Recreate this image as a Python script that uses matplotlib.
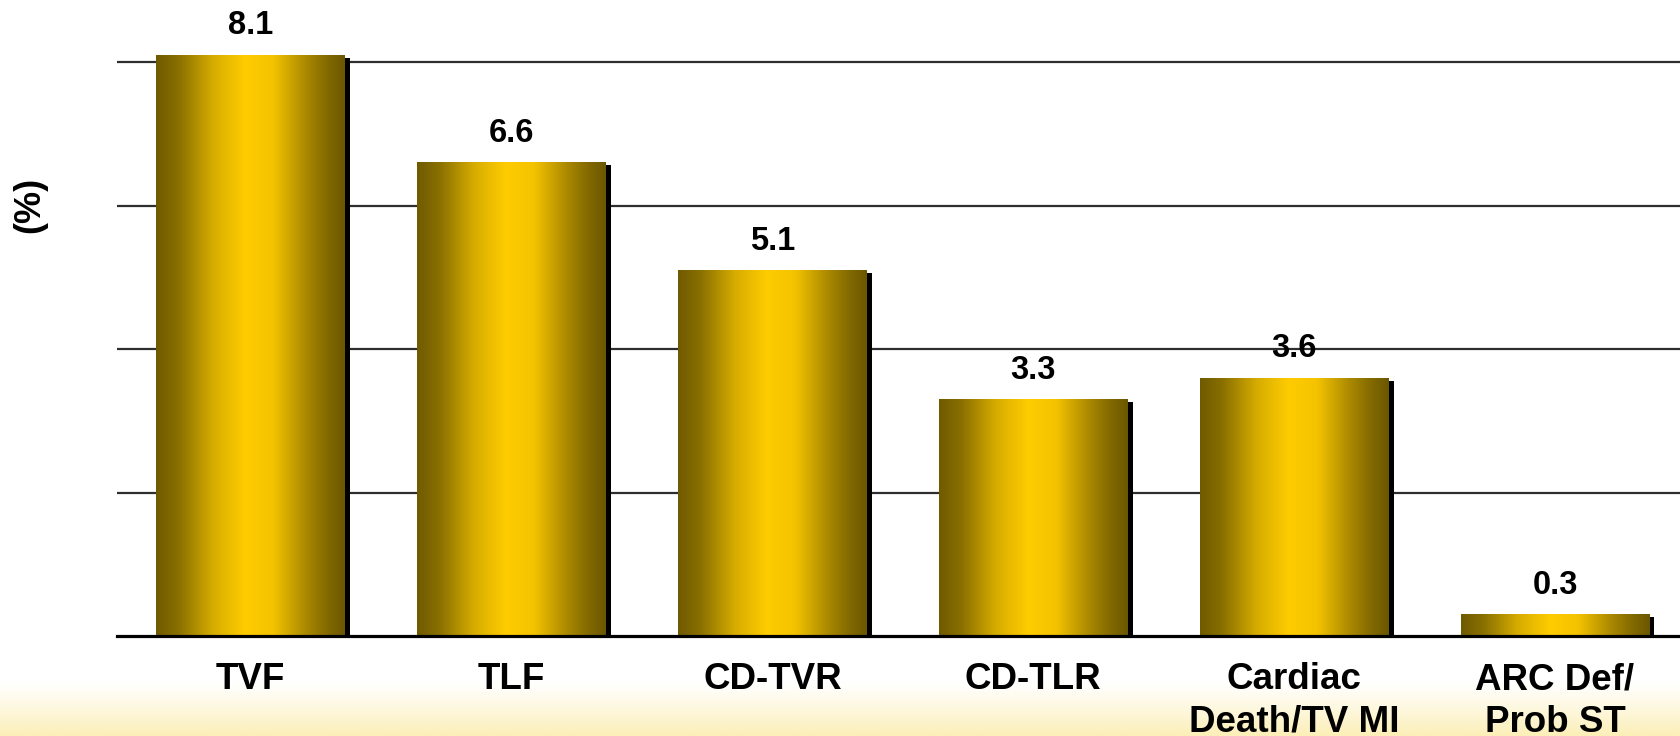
import numpy as np
import matplotlib
matplotlib.use("Agg")
import matplotlib.pyplot as plt
from matplotlib.colors import LinearSegmentedColormap
from matplotlib.transforms import ScaledTranslation

# ---- data ----
categories = ["TVF", "TLF", "CD-TVR", "CD-TLR", "Cardiac\nDeath/TV MI", "ARC Def/\nProb ST"]
values = [8.1, 6.6, 5.1, 3.3, 3.6, 0.3]
value_labels = ["8.1", "6.6", "5.1", "3.3", "3.6", "0.3"]
grid_levels = [2, 4, 6, 8]
y_label = "(%)"

plt.rcParams['font.family'] = ['Liberation Sans', 'DejaVu Sans']

W, H, DPI = 1680, 736, 100
fig = plt.figure(figsize=(W / DPI, H / DPI), dpi=DPI, facecolor='white')

# background: white fading to pale cream at the bottom
bg = fig.add_axes([0, 0, 1, 1], zorder=-5)
bg.set_axis_off()
ys = np.linspace(0, 1, 400)
frac = np.clip((ys - 0.925) / 0.075, 0, 1) ** 1.2
top = np.array([1.0, 1.0, 1.0])
bot = np.array([0xfc, 0xef, 0xb8]) / 255.0
grad = top[None, :] * (1 - frac[:, None]) + bot[None, :] * frac[:, None]
bg.imshow(grad[:, None, :], aspect='auto', extent=[0, 1, 1, 0])
bg.set_xlim(0, 1)
bg.set_ylim(1, 0)

ax = fig.add_axes([117 / W, 100 / H, (W - 117) / W, 636 / H])
ax.patch.set_alpha(0)

x = np.arange(len(categories))
width = 0.724

bar_cmap = LinearSegmentedColormap.from_list("gold", [
    (0.0, '#6f5a00'), (0.12, '#8a7000'), (0.30, '#d6ac00'), (0.47, '#ffcc00'),
    (0.62, '#f4c300'), (0.80, '#a88700'), (0.92, '#7f6600'), (1.0, '#6b5700')])
gimg = np.linspace(0, 1, 256)[None, :]

# shadows
shadow_tr = ax.transData + ScaledTranslation(5 / DPI, -3 / DPI, fig.dpi_scale_trans)
ax.bar(x, values, width=width, color='black', transform=shadow_tr, zorder=2)

# gradient bars
bars = ax.bar(x, values, width=width, color='none', edgecolor='none', zorder=3)
for b in bars:
    x0, y0 = b.get_x(), b.get_y()
    im = ax.imshow(gimg, cmap=bar_cmap, aspect='auto', interpolation='bicubic',
                   extent=[x0, x0 + b.get_width(), y0, y0 + b.get_height()], zorder=3)
    im.set_clip_path(b)

for xi, v, lab in zip(x, values, value_labels):
    ax.annotate(lab, (xi, v), xytext=(0, 14.8), textcoords='offset points',
                ha='center', va='baseline', fontsize=23.5, fontweight='bold',
                color='black', zorder=5)

ax.set_xlim(-0.512, 5.479)
ax.set_ylim(0, 636 / 71.75)

ax.set_yticks(grid_levels)
ax.set_yticklabels([])
ax.yaxis.grid(True, color='#2e2e2e', linewidth=1.6)
ax.set_axisbelow(True)

ax.set_xticks(x)
ax.set_xticklabels(categories, fontsize=26.5, fontweight='bold', linespacing=1.28)
ax.tick_params(axis='both', length=0)
ax.tick_params(axis='x', pad=19)

for s in ['top', 'right', 'left']:
    ax.spines[s].set_visible(False)
ax.spines['bottom'].set_linewidth(2.3)
ax.spines['bottom'].set_color('black')
ax.spines['bottom'].set_zorder(6)

fig.text(30 / W, 1 - 205 / H, y_label, rotation=90, ha='center', va='center',
         fontsize=26, fontweight='bold')

fig.savefig("out.png", dpi=DPI, facecolor=fig.get_facecolor())
